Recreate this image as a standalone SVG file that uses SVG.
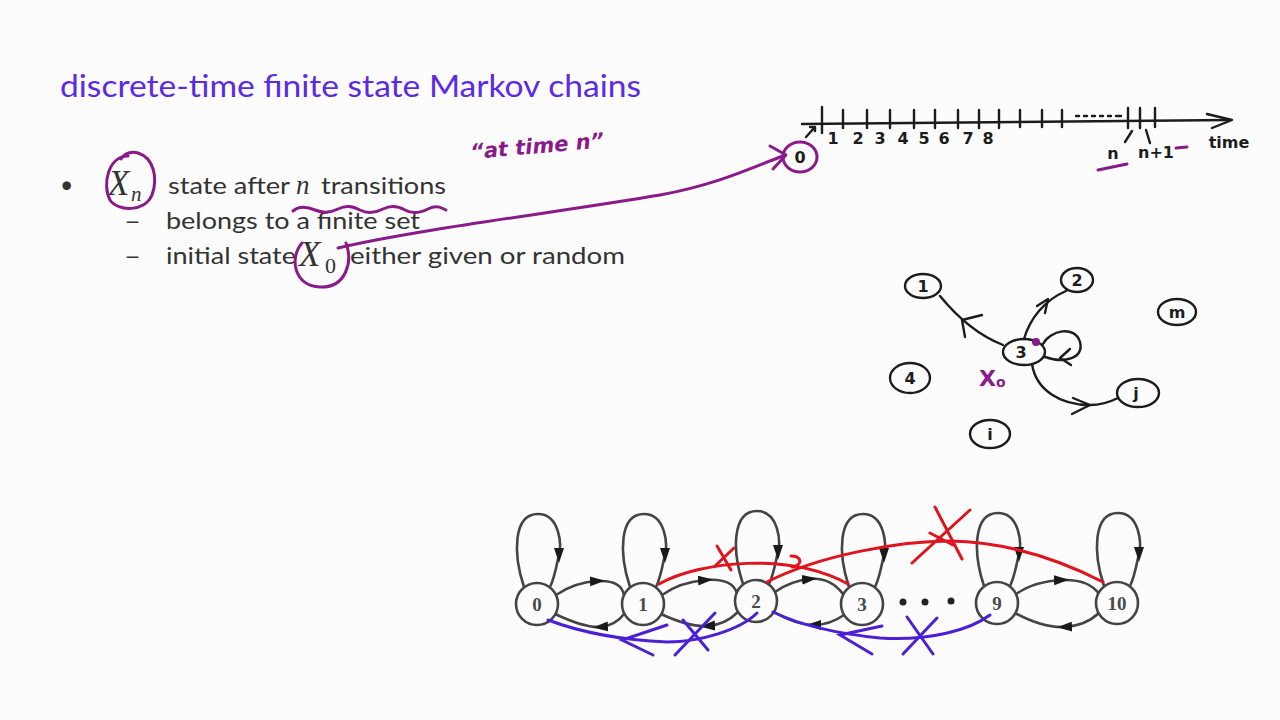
<svg xmlns="http://www.w3.org/2000/svg" width="1280" height="720" viewBox="0 0 1280 720">
<defs>
<style>
.title{font-family:"Lato","Liberation Sans",sans-serif;font-size:30px;fill:#5a2ae6}
.body{font-family:"Lato","Liberation Sans",sans-serif;font-size:23px;fill:#333}
.math{font-family:"Liberation Serif",serif;font-style:italic;fill:#333}
.mathr{font-family:"Liberation Serif",serif;fill:#333}
.chain circle{fill:none;stroke:#444;stroke-width:2.6}
.clab{font-family:"Liberation Serif",serif;font-weight:bold;font-size:19px;fill:#4a4a4a;text-anchor:middle}
.arc{fill:none;stroke:#444;stroke-width:2.6;marker-mid:url(#tri)}
.loop{fill:none;stroke:#444;stroke-width:2.6}
.hand{fill:none;stroke:#1c1c1c;stroke-width:2.4;stroke-linecap:round;stroke-linejoin:round}
.hlab{font-family:"DejaVu Sans",sans-serif;font-weight:bold;font-size:16px;fill:#1c1c1c;text-anchor:middle}
.purple{fill:none;stroke:#8a1a8a;stroke-width:3;stroke-linecap:round;stroke-linejoin:round}
.red{fill:none;stroke:#e0141e;stroke-width:3;stroke-linecap:round}
.blue{fill:none;stroke:#4b1fd6;stroke-width:3;stroke-linecap:round}
.ptext{font-family:"DejaVu Sans",sans-serif;font-weight:bold;fill:#8a1a8a}
</style>
<marker id="tri" markerUnits="userSpaceOnUse" markerWidth="16" markerHeight="12" refX="8" refY="5" orient="auto">
<path d="M0,0 L15,5 L0,10 z" fill="#1a1a1a"/>
</marker>
<path id="ahd" d="M-5,-8 L5,-8 L0,7 z" fill="#1a1a1a"/>
</defs>
<rect width="1280" height="720" fill="#fcfcfc"/>

<!-- title and bullets -->
<g id="title">
<text class="title" x="60" y="97" textLength="581" lengthAdjust="spacingAndGlyphs">discrete-time finite state Markov chains</text>
</g>
<g id="bullets">
<text class="body" x="60" y="193">•</text>
<text class="math" x="108" y="195" font-size="35">X</text>
<text class="math" x="131" y="201" font-size="21">n</text>
<text class="body" x="168" y="194" textLength="122" lengthAdjust="spacingAndGlyphs">state after</text>
<text class="math" x="296" y="194" font-size="27">n</text>
<text class="body" x="321" y="194" textLength="125" lengthAdjust="spacingAndGlyphs">transitions</text>
<text class="body" x="124" y="229" textLength="17" lengthAdjust="spacingAndGlyphs">–</text>
<text class="body" x="166" y="229" textLength="254" lengthAdjust="spacingAndGlyphs">belongs to a finite set</text>
<text class="body" x="124" y="264" textLength="17" lengthAdjust="spacingAndGlyphs">–</text>
<text class="body" x="166" y="264" textLength="130" lengthAdjust="spacingAndGlyphs">initial state</text>
<text class="math" x="299" y="266" font-size="35">X</text>
<text class="mathr" x="325" y="273" font-size="22">0</text>
<text class="body" x="350" y="264" textLength="275" lengthAdjust="spacingAndGlyphs">either given or random</text>
</g>

<!-- purple annotations -->
<g id="annotations">
<path class="purple" d="M128 156 C108 156,102 185,110 200 C118 212,145 212,152 195 C158 178,154 158,138 153 C132 151,125 153,121 159"/>
<path class="purple" d="M293 211 C300 205,308 207,315 210 S330 213,338 209 S352 206,360 210 S375 213,383 209 S398 206,405 210 S420 213,428 209 S440 207,446 210"/>
<path class="purple" d="M302 243 C289 258,294 286,320 287 C346 288,353 262,346 243"/>
<path class="purple" d="M338 248 C420 229,560 212,660 195 C720 184,755 166,783 156"/>
<polyline class="purple" points="770,146 786,155 773,169"/>
<text class="ptext" x="470" y="153" font-size="21" font-style="italic" transform="rotate(-5 540 145)">“at time n”</text>
<ellipse class="purple" cx="800" cy="157" rx="17" ry="15"/>
</g>

<!-- timeline -->
<g id="timeline">
<path class="hand" d="M802 124 L1230 120"/>
<polyline class="hand" points="1207,114 1232,120 1212,128"/>
<path class="hand" d="M822 107 V133 M843 110 V128 M867 110 V128 M890 110 V128 M914 110 V128 M935 110 V128 M958 110 V128 M979 110 V128 M999 110 V128 M1020 110 V127 M1042 110 V127 M1062 110 V127 M1128 108 V128 M1140 108 V128 M1155 108 V127"/>
<path class="hand" d="M1076 116 h3 M1084 116 h3 M1092 116 h3 M1100 116 h3 M1108 116 h3 M1116 116 h5" stroke-width="2"/>
<path class="hand" d="M806 137 L815 127 M810 127 h5 v4" stroke-width="1.8"/>
<path class="hand" d="M1132 131 L1125 142 M1146 130 L1150 143" stroke-width="2"/>
<text class="hlab" x="833" y="144">1</text>
<text class="hlab" x="858" y="144">2</text>
<text class="hlab" x="880" y="144">3</text>
<text class="hlab" x="903" y="144">4</text>
<text class="hlab" x="924" y="144">5</text>
<text class="hlab" x="944" y="144">6</text>
<text class="hlab" x="968" y="144">7</text>
<text class="hlab" x="988" y="144">8</text>
<text class="hlab" x="800" y="163">0</text>
<text class="hlab" x="1113" y="159" font-size="18">n</text>
<text class="hlab" x="1156" y="158" font-size="18">n+1</text>
<text class="hlab" x="1229" y="148" font-size="22">time</text>
<path class="purple" d="M1098 170 L1127 164 M1176 148 L1187 147"/>
</g>

<!-- hand-drawn state diagram -->
<g id="s1"><ellipse class="hand" cx="923" cy="286" rx="18" ry="12"/><text class="hlab" x="923" y="292">1</text></g>
<g id="s2"><ellipse class="hand" cx="1077" cy="280" rx="16" ry="12"/><text class="hlab" x="1077" y="286">2</text></g>
<g id="sm"><ellipse class="hand" cx="1177" cy="312" rx="19" ry="13"/><text class="hlab" x="1177" y="318">m</text></g>
<g id="s3"><ellipse class="hand" cx="1024" cy="352" rx="21" ry="13"/><text class="hlab" x="1021" y="358">3</text></g>
<g id="s4"><ellipse class="hand" cx="910" cy="378" rx="20" ry="15"/><text class="hlab" x="910" y="384" font-size="18">4</text></g>
<g id="sj"><ellipse class="hand" cx="1138" cy="393" rx="21" ry="14"/><text class="hlab" x="1136" y="399" font-size="18">j</text></g>
<g id="si"><ellipse class="hand" cx="990" cy="434" rx="20" ry="14"/><text class="hlab" x="990" y="440" font-size="18">i</text></g>
<g id="x0label">
<text class="ptext" x="979" y="386" font-size="22">X<tspan font-size="14" dy="1">o</tspan></text>
<circle cx="1036" cy="342" r="4" fill="#8a1a8a"/>
</g>
<g id="hand-edges">
<path class="hand" d="M1003 345 C980 336,958 318,940 296"/>
<polyline class="hand" points="982,315 962,320 965,337"/>
<path class="hand" d="M1024 339 C1030 318,1045 300,1066 291"/>
<polyline class="hand" points="1037,306 1048,299 1045,313"/>
<path class="hand" d="M1043 344 C1050 330,1075 325,1080 342 C1084 358,1065 364,1045 357"/>
<polyline class="hand" points="1070,349 1060,358 1071,365"/>
<path class="hand" d="M1032 364 C1036 390,1060 405,1090 405 C1100 405,1110 402,1118 398"/>
<polyline class="hand" points="1073,398 1090,405 1072,414"/>
</g>

<!-- chain -->
<g id="connectors">
<path class="loop" d="M524 587 C513 554 513 514 538 514 C559 514 563 544 558 559 C556 569 554 579 550 587"/>
<use href="#ahd" x="559" y="556"/>
<path class="loop" d="M630 587 C619 554 619 514 644 514 C665 514 669 544 664 559 C662 569 660 579 656 587"/>
<use href="#ahd" x="665" y="556"/>
<path class="loop" d="M743 584 C732 551 732 511 757 511 C778 511 782 541 777 556 C775 566 773 576 769 584"/>
<use href="#ahd" x="778" y="553"/>
<path class="loop" d="M849 587 C838 554 838 514 863 514 C884 514 888 544 883 559 C881 569 879 579 875 587"/>
<use href="#ahd" x="884" y="556"/>
<path class="loop" d="M984 586 C973 553 973 513 998 513 C1019 513 1023 543 1018 558 C1016 568 1014 578 1010 586"/>
<use href="#ahd" x="1019" y="555"/>
<path class="loop" d="M1104 586 C1093 553 1093 513 1118 513 C1139 513 1143 543 1138 558 C1136 568 1134 578 1130 586"/>
<use href="#ahd" x="1139" y="555"/>
<path class="arc" d="M556 595 Q575 582 598 581 T624 595"/>
<path class="arc" d="M625 613 Q615 626 600 627 T555 614"/>
<path class="arc" d="M662 595 Q680 582 706 580 T737 593"/>
<path class="arc" d="M738 612 Q725 625 707 626 T661 614"/>
<path class="arc" d="M775 592 Q790 581 810 579 T843 594"/>
<path class="arc" d="M844 615 Q830 625 813 625 T774 612"/>
<path class="arc" d="M1016 594 Q1035 581 1062 580 T1099 594"/>
<path class="arc" d="M1099 613 Q1085 626 1064 627 T1015 613"/>
</g>
<g class="chain">
<g id="n0"><circle cx="537" cy="604" r="21"/><text class="clab" x="537" y="611">0</text></g>
<g id="n1"><circle cx="643" cy="604" r="21"/><text class="clab" x="643" y="611">1</text></g>
<g id="n2"><circle cx="756" cy="601" r="21"/><text class="clab" x="756" y="608">2</text></g>
<g id="n3"><circle cx="862" cy="604" r="21"/><text class="clab" x="862" y="611">3</text></g>
<g id="n9"><circle cx="997" cy="603" r="21"/><text class="clab" x="997" y="610">9</text></g>
<g id="n10"><circle cx="1117" cy="603" r="21"/><text class="clab" x="1117" y="610">10</text></g>
</g>
<g id="dots" fill="#222">
<circle cx="903" cy="602" r="3.5"/><circle cx="925" cy="602" r="3.5"/><circle cx="951" cy="601" r="3.5"/>
</g>

<!-- red and blue strokes -->
<g id="red-strokes">
<path class="red" d="M659 584 C700 561,790 552,848 584"/>
<path class="red" d="M767 582 C820 555,900 541,950 541 C1010 542,1060 560,1103 582"/>
<path class="red" d="M717 546 L731 570 M734 548 L715 566" stroke-width="2.6"/>
<path class="red" d="M791 556 C800 556,803 562,796 566 L792 567" stroke-width="2.4"/>
<path class="red" d="M935 507 L962 559 M970 510 L912 563 M930 533 L953 545" stroke-width="2.8"/>
</g>
<g id="blue-strokes">
<path class="blue" d="M548 620 C580 632,620 640,667 642 C700 642,740 630,757 613"/>
<polyline class="blue" points="667,625 622,640 653,655"/>
<path class="blue" d="M683 620 L708 650 M715 613 L675 655" stroke-width="2.6"/>
<path class="blue" d="M773 612 C800 625,840 634,880 638 C930 641,970 630,990 615"/>
<polyline class="blue" points="882,626 840,635 872,654"/>
<path class="blue" d="M907 617 L933 654 M937 618 L903 654" stroke-width="2.6"/>
</g>
</svg>
